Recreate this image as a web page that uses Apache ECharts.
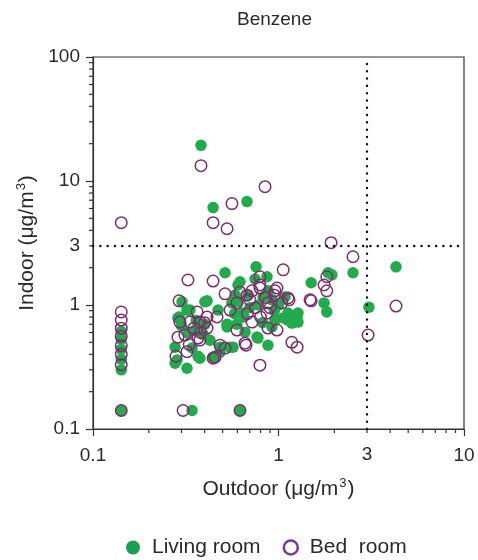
<!DOCTYPE html>
<html><head><meta charset="utf-8">
<script src="https://cdn.jsdelivr.net/npm/echarts@6/dist/echarts.min.js"></script>
<style>html,body{margin:0;padding:0;background:#fff}#c{width:478px;height:560px}</style>
</head><body><div id="c"></div>
<script>
const livingRoom = [
[0.382,19.4],[0.444,6.10],[0.676,6.82],
[0.142,0.61],[0.142,0.53],[0.142,0.44],[0.142,0.365],[0.142,0.30],[0.142,0.141],
[0.342,0.141],[0.620,0.141],
[4.30,2.03],[3.07,0.96],[2.52,1.82],[1.85,1.82],[1.94,1.75],[1.50,1.51],[1.76,1.04],[1.82,0.88],[1.26,0.81],[1.18,0.715],[1.06,0.785],
[0.515,1.82],[0.757,2.03],[0.747,1.62],[0.412,1.08],[0.291,0.80],[0.321,0.91],[0.284,0.36],[0.321,0.309],[0.368,0.386],[0.455,0.386],[0.484,0.457],[0.528,0.664],[0.568,0.457],[0.605,1.45],[0.644,0.86],[0.766,0.551],[0.877,0.474],[0.922,0.664],[0.825,1.16],
[0.287,0.785],[0.325,0.593],[0.277,0.457],[0.277,0.339],[0.377,0.372],[0.444,0.379],[0.528,0.70],[0.597,0.70],[0.484,0.416],[0.548,0.457],[0.392,0.58],[0.427,0.52],[0.342,0.45],
[0.302,1.06],[0.401,1.06],[0.333,0.91],[0.472,0.91],[0.583,1.20],[0.561,1.04],
[0.867,1.69],[0.620,1.54],[0.685,1.20],[1.084,1.16],[0.922,1.10],[0.605,1.06],[1.274,0.86],[1.125,0.86],
[0.775,0.541],[1.125,0.756],[0.957,0.756],[1.274,0.728],[0.660,0.604],
[0.78,1.00],[0.88,1.30],[0.70,0.95],[0.95,0.90],[0.65,0.80],[1.0,1.0],[0.82,0.72],[0.58,0.85],[0.35,0.62],[0.40,0.70],[0.36,0.75],[0.30,0.68]
];
const bedRoom = [
[0.382,13.3],[0.846,9.0],[0.561,6.57],[0.444,4.61],[0.528,4.12],[0.142,4.61],
[1.92,3.18],[2.52,2.45],[1.82,1.69],[1.82,1.30],[1.76,1.45],[1.50,1.08],[1.06,1.92],[4.30,0.98],[3.04,0.572],[1.18,0.50],[1.26,0.457],[1.14,1.10],
[0.142,0.88],[0.142,0.756],[0.142,0.65],[0.142,0.56],[0.142,0.47],[0.142,0.40],[0.142,0.33],[0.142,0.141],[0.306,0.141],[0.620,0.141],
[0.325,1.59],[0.444,1.56],[0.515,1.23],[0.291,1.08],[0.364,0.88],[0.412,0.80],[0.287,0.55],[0.321,0.42],[0.280,0.386],[0.444,0.372],[0.377,0.521],[0.597,0.628],[0.668,0.474],[0.794,0.327],[0.620,1.27],[0.794,1.45],[0.867,0.86],[0.957,1.30],
[0.313,0.572],[0.368,0.541],[0.412,0.652],[0.484,0.474],[0.455,0.379],[0.377,0.728],[0.333,0.728],[0.294,0.728],[0.515,0.449],[0.466,0.80],
[0.548,0.91],[0.597,1.04],
[0.794,1.69],[0.981,1.37],[0.794,1.37],[0.676,1.20],[1.125,1.14],[1.044,1.04],[0.877,1.04],[1.479,1.10],
[0.720,0.728],[0.877,0.652],[0.981,0.628],[0.660,0.492],
[0.70,1.10],[0.75,0.95],[0.85,1.15],[0.90,0.95],[0.68,0.85],[0.80,0.80],[0.95,1.20],[0.72,1.30],[0.35,0.65],[0.38,0.60],[0.40,0.72],[0.33,0.48]
];
const thresholdOutdoor = 3;
const thresholdIndoor = 3;
const xMinorTicks = [0.2,0.3,0.4,0.5,0.6,0.7,0.8,0.9,2,3,4,5,6,7,8,9];
const yMinorTicks = [0.2,0.3,0.4,0.5,0.6,0.7,0.8,0.9,2,3,4,5,6,7,8,9,20,30,40,50,60,70,80,90];
const seriesNames = ['Living room','Bed  room'];

const FONT = 'Liberation Sans, Arial, sans-serif';
const GREEN = '#22aa4c';
const PURPLE = '#7e2c6e';
const AX = '#333';
const TXT = '#2a2a2a';
const nameRich = {
  a:{fontFamily:FONT,fontSize:21,color:TXT,lineHeight:26},
  s:{fontFamily:FONT,fontSize:13,color:TXT,lineHeight:26,verticalAlign:'top',padding:[1,1,0,1]}
};

const chart = echarts.init(document.getElementById('c'), null, {renderer:'canvas'});
chart.setOption({
  animation:false,
  title:{text:'Benzene', left:232, top:5,
    textStyle:{fontFamily:FONT,fontSize:19,fontWeight:'normal',color:TXT}},
  grid:{left:93,right:14,top:57,bottom:131,show:true,borderColor:AX,borderWidth:1.2,backgroundColor:'transparent'},
  legend:{top:532,left:121,itemGap:22,itemWidth:28,itemHeight:14,
    textStyle:{fontFamily:FONT,fontSize:21,color:TXT},
    data:[
      {name:seriesNames[0],icon:'circle',itemStyle:{color:'#1d9e55'}},
      {name:seriesNames[1],icon:'circle',itemStyle:{color:'#fff',borderColor:'#7a3a98',borderWidth:2.5}}
    ]},
  xAxis:{type:'log',logBase:10,min:0.1,max:10,
    name:'{a|Outdoor (\u03bcg/m}{s|3}{a|)}',nameLocation:'middle',nameGap:47,
    nameTextStyle:{rich:nameRich},
    axisLine:{lineStyle:{color:AX,width:1.2}},
    axisTick:{show:true,length:7,lineStyle:{color:AX,width:1.2}},
    axisLabel:{fontFamily:FONT,fontSize:19,color:TXT,margin:17},
    splitLine:{show:false}},
  yAxis:{type:'log',logBase:10,min:0.1,max:100,
    name:'{a|Indoor (\u03bcg/m}{s|3}{a|)}',nameLocation:'middle',nameGap:53,
    nameTextStyle:{rich:nameRich},
    axisLine:{lineStyle:{color:AX,width:1.2}},
    axisTick:{show:true,length:7,lineStyle:{color:AX,width:1.2}},
    axisLabel:{fontFamily:FONT,fontSize:19,color:TXT,margin:13},
    splitLine:{show:false}},
  series:[
    {type:'custom',name:'xminor',silent:true,clip:false,
      data:xMinorTicks.map(v=>[v,1]),
      renderItem:function(params,api){
        const p=api.coord([api.value(0),1]);
        const cs=params.coordSys; const yb=cs.y+cs.height;
        return {type:'line',shape:{x1:p[0],y1:yb,x2:p[0],y2:yb+4},style:{stroke:AX,lineWidth:1.2}};
      }},
    {type:'custom',name:'yminor',silent:true,clip:false,
      data:yMinorTicks.map(v=>[1,v]),
      renderItem:function(params,api){
        const p=api.coord([1,api.value(1)]);
        const cs=params.coordSys; const xl=cs.x;
        return {type:'line',shape:{x1:xl,y1:p[1],x2:xl-4,y2:p[1]},style:{stroke:AX,lineWidth:1.2}};
      }},
    {type:'scatter',name:seriesNames[0],data:livingRoom,symbol:'circle',symbolSize:11.5,
      itemStyle:{color:GREEN,opacity:1},z:2,
      markLine:{silent:true,symbol:'none',animation:false,
        lineStyle:{color:'#111',width:2.4,type:[0.1,7.2],cap:'round'},
        data:[
          [{coord:[thresholdOutdoor,0.1],label:{show:true,position:'start',formatter:'3',distance:16,fontFamily:FONT,fontSize:19,color:TXT}},{coord:[thresholdOutdoor,100]}],
          [{coord:[0.1,thresholdIndoor],label:{show:true,position:'start',formatter:'3',distance:13,fontFamily:FONT,fontSize:19,color:TXT}},{coord:[10,thresholdIndoor]}]
        ]}},
    {type:'scatter',name:seriesNames[1],data:bedRoom,symbol:'circle',symbolSize:11.5,
      itemStyle:{color:'rgba(255,255,255,0)',borderColor:PURPLE,borderWidth:1.5,opacity:1},z:3}
  ]
});
</script></body></html>
